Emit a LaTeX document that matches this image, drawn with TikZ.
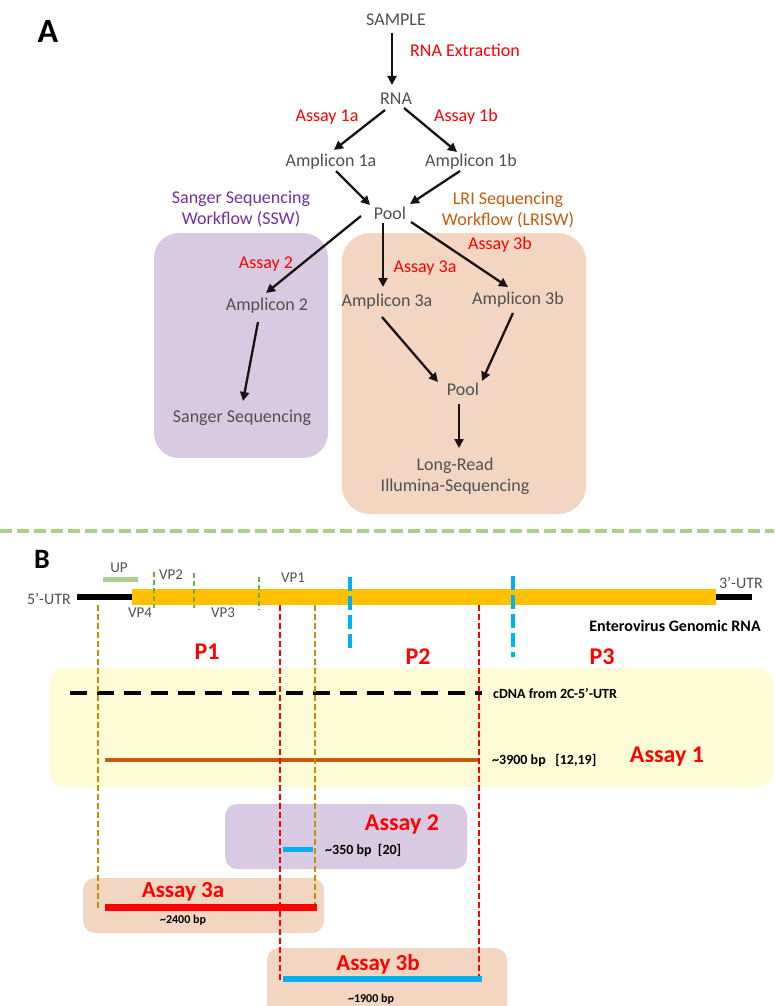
\documentclass[tikz,border=0pt]{standalone}
\usepackage{fontspec}
\setmainfont{Carlito}
\usetikzlibrary{arrows.meta,calc}
\definecolor{txtgray}{RGB}{80,80,80}
\definecolor{myred}{RGB}{255,0,0}
\definecolor{mypurple}{RGB}{112,48,160}
\definecolor{myorange}{RGB}{197,90,17}
\definecolor{boxpurple}{RGB}{217,202,228}
\definecolor{boxpeach}{RGB}{242,214,194}
\definecolor{boxyellow}{RGB}{254,252,214}
\definecolor{genomeorange}{RGB}{255,192,0}
\definecolor{lightgreen}{RGB}{169,209,142}
\definecolor{vpgreen}{RGB}{112,173,71}
\definecolor{cyanb}{RGB}{0,176,240}
\definecolor{oliveline}{RGB}{191,144,0}
\definecolor{arrowdark}{RGB}{25,18,18}
\begin{document}
\begin{tikzpicture}[x=1pt,y=-1pt,
  lbl/.style={font=\fontsize{18}{21}\selectfont, text=txtgray, inner sep=0pt, align=center},
  asy/.style={font=\fontsize{18}{21}\selectfont, text=myred, inner sep=0pt},
  wf/.style={font=\fontsize{18}{21}\selectfont, inner sep=0pt, align=center},
  arr/.style={line width=2.3pt, draw=arrowdark, -{Triangle[length=9pt,width=9pt]}},
  big/.style={font=\fontsize{34}{36}\selectfont\bfseries, inner sep=0pt},
  vp/.style={font=\fontsize{15}{17}\selectfont, text=txtgray, inner sep=0pt},
  small/.style={font=\fontsize{14}{16}\selectfont\bfseries, inner sep=0pt},
  tiny/.style={font=\fontsize{12}{14}\selectfont\bfseries, inner sep=0pt},
  pp/.style={font=\fontsize{24}{26}\selectfont\bfseries, text=myred, inner sep=0pt},
  basy/.style={font=\fontsize{23}{25}\selectfont\bfseries, text=myred, inner sep=0pt},
  vdash/.style={line width=1.5pt, dash pattern=on 6pt off 3pt},
  vpdash/.style={vpgreen, line width=1.3pt, dash pattern=on 5pt off 3pt},
  bluedash/.style={cyanb, line width=4pt, dash pattern=on 14pt off 5pt}
]
\useasboundingbox (0,0) rectangle (774,1006);
\clip (0,0) rectangle (774,1006);

% ---------------- Part A ----------------
\fill[boxpurple, rounded corners=25pt] (154,233) rectangle (328,458);
\fill[boxpeach, rounded corners=28pt] (342,233) rectangle (586,514);

\node[big] (labA) at (48,31) {A};
\node[lbl] (sample) at (396,20) {SAMPLE};
\node[asy, anchor=west] (rnaext) at (410,50) {RNA Extraction};
\node[lbl] (rna) at (396,99) {RNA};
\node[asy] (as1a) at (327,117) {Assay 1a};
\node[asy] (as1b) at (466,117) {Assay 1b};
\node[lbl] (amp1a) at (331,162) {Amplicon 1a};
\node[lbl] (amp1b) at (471,162) {Amplicon 1b};
\node[lbl] (pool) at (390,213) {Pool};
\node[wf, text=mypurple] (ssw) at (241,209) {Sanger Sequencing\\Workflow (SSW)};
\node[wf, text=myorange] (lrisw) at (508,210) {LRI Sequencing\\Workflow (LRISW)};
\node[asy] (as2) at (266,264) {Assay 2};
\node[lbl] (amp2) at (267,306) {Amplicon 2};
\node[lbl] (sanger) at (242,418) {Sanger Sequencing};
\node[asy] (as3a) at (425,268) {Assay 3a};
\node[asy] (as3b) at (500,245) {Assay 3b};
\node[lbl] (amp3a) at (387,302) {Amplicon 3a};
\node[lbl] (amp3b) at (518,300) {Amplicon 3b};
\node[lbl] (pool2) at (463,389) {Pool};
\node[lbl] (lr) at (455,476) {Long-Read\\Illumina-Sequencing};

\draw[arr] ($(sample)+(-4,13)$) -- ($(rna)+(-4,-14)$);
\draw[arr] ($(rna)+(-11,11)$) -- ($(amp1a)+(3,-12)$);
\draw[arr] ($(rna)+(8,9)$) -- ($(amp1b)+(-14,-10)$);
\draw[arr] ($(amp1a)+(5,9)$) -- ($(pool)+(-20,-8)$);
\draw[arr] ($(amp1b)+(-11,9)$) -- ($(pool)+(20,-9)$);
\draw[arr] ($(pool)+(-29,3)$) -- ($(amp2)+(-1,-13)$);
\draw[arr] ($(amp2)+(-9,16)$) -- ($(sanger)+(1,-17)$);
\draw[arr] ($(pool)+(-7,10)$) -- ($(amp3a)+(-4,-15)$);
\draw[arr] ($(pool)+(21,9)$) -- ($(amp3b)+(-10,-13)$);
\draw[arr] ($(amp3a)+(-5,15)$) -- ($(pool2)+(-25,-7)$);
\draw[arr] ($(amp3b)+(-5,13)$) -- ($(pool2)+(19,-8)$);
\draw[arr] ($(pool2)+(-4,15)$) -- ($(lr)+(4,-28)$);

% separator
\draw[lightgreen, line width=3.5pt, dash pattern=on 12pt off 5pt] (0,531) -- (774,531);

% ---------------- Part B ----------------
\fill[boxyellow, rounded corners=16pt] (49,668) rectangle (773,787);
\fill[boxpurple, rounded corners=12pt] (225,804) rectangle (467,869);
\fill[boxpeach, rounded corners=12pt] (83,878) rectangle (324,933);
\fill[boxpeach, rounded corners=12pt] (267,948) rectangle (507,1020);

\node[big, font=\fontsize{28}{30}\selectfont\bfseries] (labB) at (42,559) {B};

% genome
\draw[line width=6pt] (77,597) -- (132,597);
\draw[line width=6pt] (716,597) -- (752,597);
\fill[genomeorange] (132,589) rectangle (716,605);
\draw[lightgreen, line width=5pt] (103,579) -- (138,579);
\draw[vpdash] (154,572) -- (154,608);
\draw[vpdash] (194,573) -- (194,608);
\draw[vpdash] (259,577) -- (259,610);
\draw[bluedash] (350,577) -- (350,648);
\draw[bluedash] (513,576) -- (513,657);

\node[vp, font=\fontsize{16}{18}\selectfont, anchor=east] (utr5) at (71,599) {5’-UTR};
\node[vp, font=\fontsize{16}{18}\selectfont] (utr3) at (741,583) {3’-UTR};
\node[vp] (up) at (119,568) {UP};
\node[vp] (vp2) at (171,575) {VP2};
\node[vp] (vp1) at (293,578) {VP1};
\node[vp] (vp4) at (140,613) {VP4};
\node[vp] (vp3) at (223,613) {VP3};
\node[small, font=\fontsize{16}{18}\selectfont\bfseries] (evrna) at (675,626) {Enterovirus Genomic RNA};
\node[pp] (p1) at (207,652) {P1};
\node[pp] (p2) at (418,657) {P2};
\node[pp] (p3) at (602,657) {P3};

% assay 1 content
\draw[line width=4.5pt, dash pattern=on 17pt off 10pt] (70,693) -- (482,693);
\node[small, anchor=west] (cdna) at (493,693) {cDNA from 2C-5’-UTR};
\draw[myorange, line width=4pt] (105,760) -- (479,760);
\node[small, anchor=west] (bp3900) at (492,760) {\textasciitilde3900 bp~~~[12,19]};
\node[pp] (as1) at (667,757) {Assay 1};

% vertical dashed guides
\draw[oliveline, vdash] (98,605) -- (98,910);
\draw[oliveline, vdash] (315,605) -- (315,905);
\draw[myred, vdash] (280,605) -- (280,980);
\draw[myred, vdash] (479,605) -- (479,980);

% assay 2
\node[basy, font=\fontsize{24}{26}\selectfont\bfseries] (as2b) at (402,825) {Assay 2};
\draw[cyanb, line width=5pt] (283,849) -- (313,849);
\node[small, anchor=west] (bp350) at (325,850) {\textasciitilde350 bp~~[20]};

% assay 3a
\node[basy] (as3ab) at (183,892) {Assay 3a};
\draw[myred, line width=7pt] (105,907) -- (317,907);
\node[tiny] (bp2400) at (183,920) {\textasciitilde2400 bp};

% assay 3b
\node[basy] (as3bb) at (378,964) {Assay 3b};
\draw[cyanb, line width=6pt] (283,979) -- (482,979);
\node[tiny] (bp1900) at (371,999) {\textasciitilde1900 bp};
\end{tikzpicture}
\end{document}
